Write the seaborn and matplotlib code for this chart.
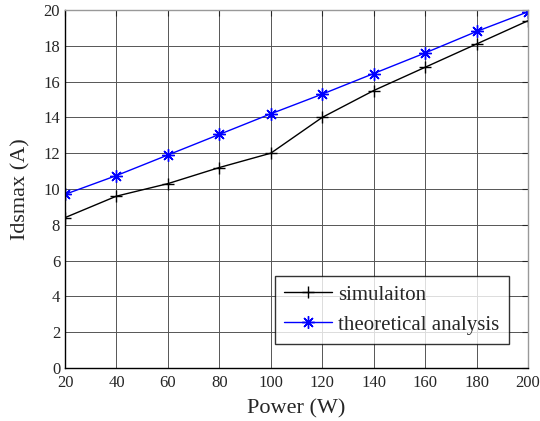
import numpy as np
import matplotlib
matplotlib.use("Agg")
import matplotlib.pyplot as plt
import seaborn as sns

power = [20, 40, 60, 80, 100, 120, 140, 160, 180, 200]
simulation = [8.4, 9.6, 10.3, 11.2, 12.0, 14.0, 15.5, 16.8, 18.1, 19.4]
theoretical = [9.7, 10.75, 11.9, 13.05, 14.2, 15.3, 16.45, 17.6, 18.8, 19.9]

sns.set_style("white")
plt.rcParams["font.family"] = ["Liberation Serif", "DejaVu Serif"]

fig = plt.figure(figsize=(5.4, 4.21), dpi=100)
ax = fig.add_axes([65 / 540, 53 / 421, 463 / 540, 358 / 421])

# one call per series: seaborn won't mix '+' and '*' in one style mapping
sns.lineplot(x=power, y=simulation, color="black", marker="+", markersize=9,
             markeredgewidth=1, markeredgecolor="black",
             linewidth=1, label="simulaiton", ax=ax)
sns.lineplot(x=power, y=theoretical, color="blue", marker=(8, 2, 0), markersize=9,
             markeredgewidth=1, markeredgecolor="blue",
             linewidth=1, label="theoretical analysis", ax=ax)

ax.set_xlim(20, 200)
ax.set_ylim(0, 20)
ax.set_xticks(np.arange(20, 201, 20))
ax.set_yticks(np.arange(0, 21, 2))
ax.grid(True, color="#555555", linewidth=0.7)
ax.tick_params(direction="in", labelsize=12, length=4, top=True, right=True,
               labeltop=False, labelright=False)
ax.tick_params(axis="x", pad=5)
for side, spine in ax.spines.items():
    spine.set_linewidth(1)
    spine.set_color("black" if side in ("left", "bottom") else "#999999")

ax.set_xlabel("Power (W)", fontsize=16, labelpad=6)
ax.set_ylabel("Idsmax (A)", fontsize=16, labelpad=9)

leg = ax.legend(loc="lower right", bbox_to_anchor=(0.959, 0.067), fontsize=15,
                frameon=True, fancybox=False, edgecolor="black",
                handlelength=2.3, handletextpad=0.3, borderpad=0.45,
                labelspacing=0.5, borderaxespad=0)
leg.get_frame().set_linewidth(1)

fig.savefig("out.png", dpi=100)
